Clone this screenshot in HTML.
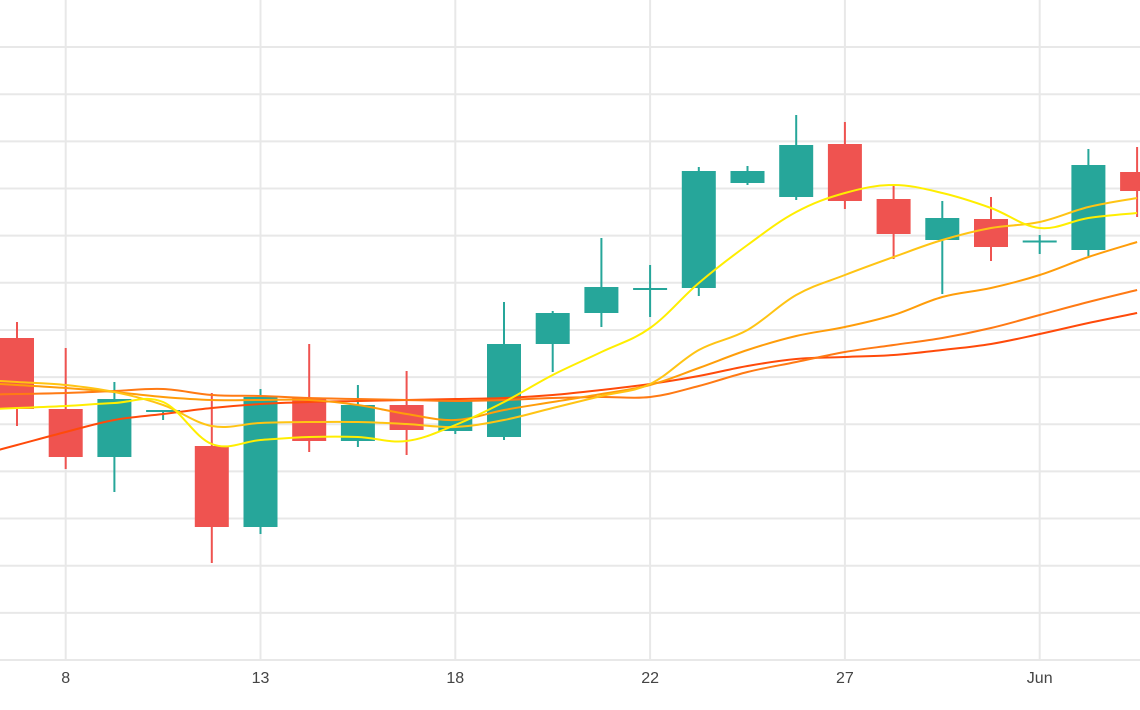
<!DOCTYPE html>
<html><head><meta charset="utf-8"><style>
html,body{margin:0;padding:0;background:#fff;}
svg{display:block;font-family:"Liberation Sans",sans-serif;}
</style></head><body>
<svg id="chart" width="1140" height="710"></svg>
<script>
const labels = ["7","8","9","10","11","13","14","15","16","17","18","19","20","21","22","23","24","26","27","28","29","30","Jun","2"];
const tickIdx = [1,5,9,13,17,21];
const tickText = ["8","13","18","22","27","Jun"];
const opens  = [322,251,203,249,214,133,262,219,255,229,223,316,347,372,372,477,463,516,461,420,441,419,410,488];
const highs  = [338,312,278,250,267,271,316,275,289,260,358,349,422,395,493,494,545,538,475,459,463,425,511,513];
const lows   = [234,191,168,240,97,126,208,213,205,226,220,288,333,343,364,475,460,451,401,366,399,406,404,443];
const closes = [251,203,261,250,133,263,219,255,230,260,316,347,373,372,489,489,515,459,426,442,413,419.5,495,469];
const ma1 = [252,254,257,258,216,220,223,223,219,235,258,285,308,332,377,415,448,467,475,467,452,432,442,447];
const ma2 = [278,275,268,255,234,237,238,238,236,233,240,252,264,276,310,330,365,385,403,420,432,438,453,462];
const ma3 = [275,272,268,263,260,260,260,255,246,240,250,258,266,275,292,310,324,333,345,363,372,385,403,418];
const ma4 = [266,267,269,271,265,264,262,261,260,259,260,262,263,263,274,288,298,308,315,322,332,345,358,370];
const ma5 = [215,228,240,246,252,256,258,259,260,261,262,265,270,276,284,294,301,303,305,310,316,326,337,347];
const maColors = ["#ffee00","#ffc414","#ff9d0a","#ff7a14","#ff4a0a"];
const maNames = ["ma-line-1","ma-line-2","ma-line-3","ma-line-4","ma-line-5"];

const NS="http://www.w3.org/2000/svg";
const svg=document.getElementById('chart');
const step=48.7, x0=17;
const X=i=>x0+i*step;
const unit=47.15;
const Y=v=>660-v;
function mk(t,a){const e=document.createElementNS(NS,t);for(const k in a)e.setAttribute(k,a[k]);svg.appendChild(e);return e;}

// horizontal grid
for(let k=0;k<=13;k++){
  const g=mk('line',{x1:0,x2:1140,y1:Y(k*unit),y2:Y(k*unit),stroke:'#e8e8e8','stroke-width':2});
  
  
}
tickIdx.forEach((ti,j)=>{
  const g=mk('line',{x1:X(ti),x2:X(ti),y1:0,y2:660,stroke:'#e8e8e8','stroke-width':2});
  
  
  const t=mk('text',{x:X(ti),y:683,'text-anchor':'middle','font-size':16,fill:'#444'});
  t.textContent=tickText[j];
  
  
});

// candles
opens.forEach((o,i)=>{
  const c=closes[i], up=c>=o, col=up?'#26a69a':'#ef5350';
  const w=mk('line',{x1:X(i),x2:X(i),y1:Y(highs[i]),y2:Y(lows[i]),stroke:col,'stroke-width':2});
  
  
  const top=Y(Math.max(o,c)), h=Math.max(2,Math.abs(o-c));
  const b=mk('rect',{x:X(i)-17,y:top,width:34,height:h,fill:col});
  
  
});

// moving averages (smooth cardinal spline)
function pathFor(arr){
  const pts=arr.map((v,i)=>[X(i),Y(v)]);
  const first=[2*pts[0][0]-pts[1][0],2*pts[0][1]-pts[1][1]];
  const p=[first,...pts];
  let d=`M${p[0][0]},${p[0][1]}`;
  for(let i=0;i<p.length-1;i++){
    const a=p[Math.max(0,i-1)],b=p[i],c=p[i+1],e=p[Math.min(p.length-1,i+2)];
    const t=0.18;
    d+=` C${b[0]+(c[0]-a[0])*t},${b[1]+(c[1]-a[1])*t} ${c[0]-(e[0]-b[0])*t},${c[1]-(e[1]-b[1])*t} ${c[0]},${c[1]}`;
  }
  return d;
}
[ma5,ma4,ma3,ma2,ma1].forEach((arr,k)=>{
  const idx=4-k;
  const p=mk('path',{d:pathFor(arr),fill:'none',stroke:maColors[idx],'stroke-width':2});
  
  
});
</script>
</body></html>
